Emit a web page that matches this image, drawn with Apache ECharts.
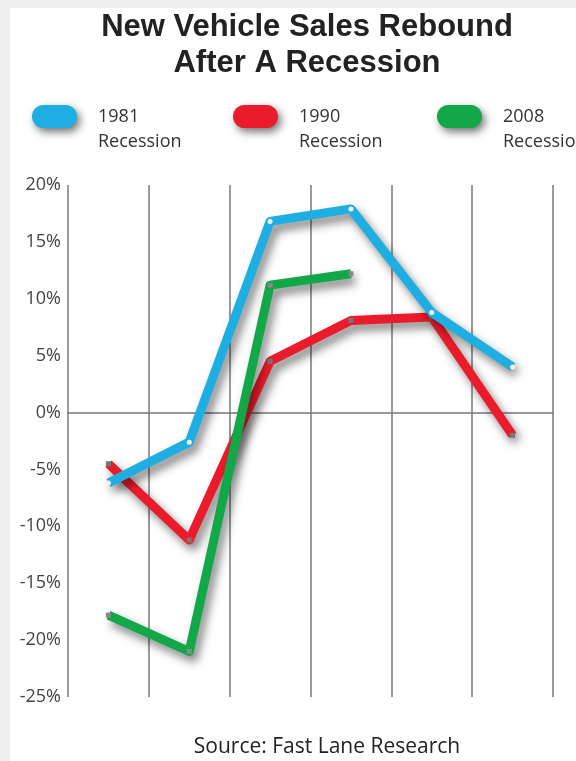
<!DOCTYPE html>
<html>
<head>
<meta charset="utf-8">
<script src="https://cdn.jsdelivr.net/npm/echarts@6/dist/echarts.min.js"></script>
<style>
  html, body { margin: 0; padding: 0; background: #efefef; }
  #chart { width: 576px; height: 761px; }
</style>
</head>
<body>
<div id="chart"></div>
<script>
// periods after the recession (no labels on the original)
const periods = ['1', '2', '3', '4', '5', '6'];
const sales1981 = [-6.2, -2.6, 16.8, 17.9, 8.8, 4.0];
const sales1990 = [-4.5, -11.2, 4.5, 8.1, 8.4, -2.0];
const sales2008 = [-17.8, -21.0, 11.2, 12.2, null, null];
const seriesNames = ['1981 Recession', '1990 Recession', '2008 Recession'];
const colors = ['#1eaee2', '#ea1c2b', '#12a84a'];

const myChart = echarts.init(document.getElementById('chart'));

// capsule shaped legend blob
const blob = 'path://M11.5,0 H33.5 A11.5,11.5 0 0 1 33.5,23 H11.5 A11.5,11.5 0 0 1 11.5,0 Z';

function makeLegend(idx, left) {
  return {
    data: [seriesNames[idx]],
    left: left,
    top: 79,
    icon: blob,
    itemWidth: 45,
    itemHeight: 23,
    itemGap: 16,
    padding: 0,
    // blank first line so the year sits level with the blob
    formatter: function (name) {
      return ' \n' + name.replace(' ', '\n');
    },
    itemStyle: {
      color: colors[idx],
      shadowBlur: 9,
      shadowColor: 'rgba(0,0,0,0.55)',
      shadowOffsetX: 3,
      shadowOffsetY: 4
    },
    textStyle: {
      fontFamily: 'Open Sans',
      fontSize: 18,
      lineHeight: 25,
      color: '#333',
      padding: [0, 0, 0, 16]
    },
    selectedMode: false
  };
}

function lineStyleFor(idx) {
  return {
    width: 9,
    color: colors[idx],
    join: 'round',
    shadowBlur: 10,
    shadowColor: 'rgba(0,0,0,0.5)',
    shadowOffsetX: 4,
    shadowOffsetY: 6
  };
}

let option = {
  backgroundColor: '#efefef',
  graphic: [{
    type: 'rect',
    z: -10,
    silent: true,
    shape: { x: 10, y: 8, width: 566, height: 753 },
    style: { fill: '#fff' }
  }],
  title: [
    {
      text: 'New Vehicle Sales Rebound\nAfter A Recession',
      left: 307,
      top: 9,
      padding: 0,
      textAlign: 'center',
      textStyle: {
        fontFamily: 'Liberation Sans',
        fontWeight: 'bold',
        fontSize: 31,
        lineHeight: 36,
        color: '#222'
      }
    },
    {
      text: 'Source: Fast Lane Research',
      left: 327,
      top: 737,
      padding: 0,
      textAlign: 'center',
      textStyle: {
        fontFamily: 'Open Sans',
        fontWeight: 'normal',
        fontSize: 21,
        color: '#222'
      }
    }
  ],
  legend: [makeLegend(0, 32), makeLegend(1, 233), makeLegend(2, 437)],
  grid: {
    left: 68,
    right: 23,
    top: 185,
    bottom: 64
  },
  xAxis: {
    type: 'category',
    data: periods,
    boundaryGap: true,
    axisLine: { show: true, onZero: true, lineStyle: { color: '#777', width: 1.5 } },
    axisTick: { show: false },
    axisLabel: { show: false },
    splitLine: { show: true, lineStyle: { color: '#9a9a9a', width: 2 } }
  },
  yAxis: {
    type: 'value',
    min: -25,
    max: 20,
    interval: 5,
    axisLine: { show: false },
    axisTick: { show: false },
    splitLine: { show: false },
    axisLabel: {
      formatter: '{value}%',
      margin: 7,
      fontFamily: 'Open Sans',
      fontSize: 18,
      color: '#444'
    }
  },
  series: [
    {
      name: seriesNames[0],
      type: 'line',
      z: 4,
      data: sales1981,
      symbol: 'circle',
      symbolSize: 5,
      itemStyle: { color: '#f2f2f2', borderWidth: 0 },
      lineStyle: lineStyleFor(0)
    },
    {
      name: seriesNames[1],
      type: 'line',
      z: 2,
      data: sales1990,
      symbol: 'rect',
      symbolSize: 5,
      itemStyle: { color: '#777', borderWidth: 0 },
      lineStyle: lineStyleFor(1)
    },
    {
      name: seriesNames[2],
      type: 'line',
      z: 3,
      data: sales2008,
      symbol: 'rect',
      symbolSize: 5,
      itemStyle: { color: '#888', borderWidth: 0 },
      lineStyle: lineStyleFor(2)
    }
  ]
};

myChart.setOption(option);
</script>
</body>
</html>
